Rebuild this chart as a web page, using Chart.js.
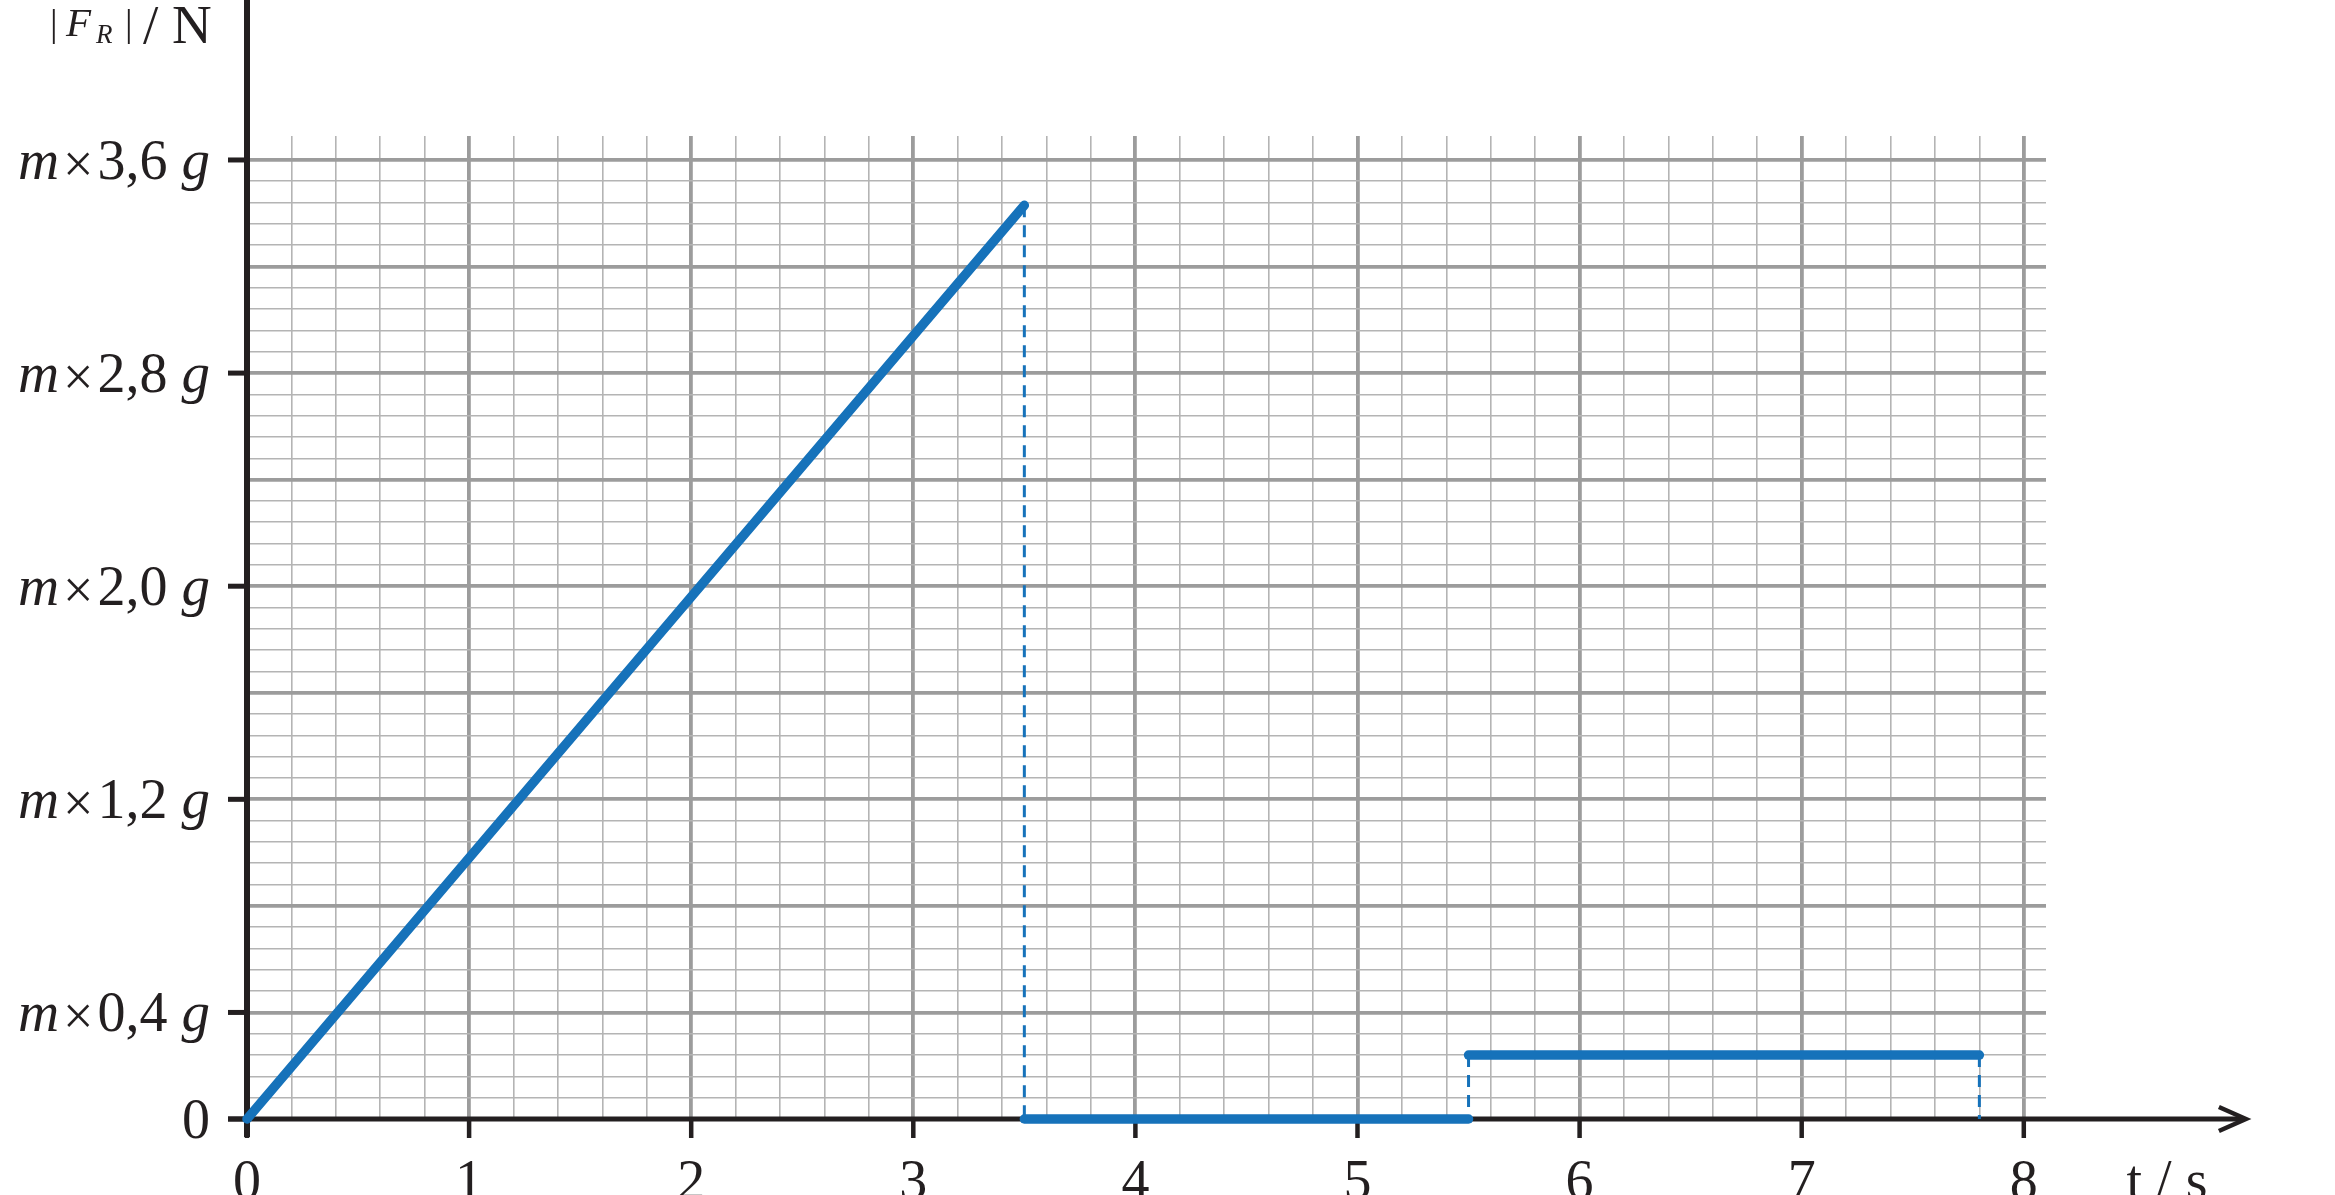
<!DOCTYPE html>
<html>
<head>
<meta charset="utf-8">
<title>|F_R| over t</title>
<script src="https://cdn.jsdelivr.net/npm/chart.js@4.4.1/dist/chart.umd.min.js"></script>
<style>
  html, body { margin: 0; padding: 0; background: #fff; }
  #wrap { width: 2335px; height: 1195px; position: relative; }
</style>
</head>
<body>
<div id="wrap"><canvas id="chart"></canvas></div>
<script>
  // values (t in s, |F_R| in units of m*g)
  var rampT = [0, 3.5];
  var rampF = [0, 3.43];
  var restT = [3.5, 5.5];
  var restF = [0, 0];
  var slideT = [5.5, 7.8];
  var slideF = [0.24, 0.24];
  var guideT = [3.5, 5.5, 7.8];
  var guideTop = [3.43, 0.24, 0.24];

  var xTickVals = [0, 1, 2, 3, 4, 5, 6, 7, 8];
  var yTickVals = [0, 0.4, 1.2, 2.0, 2.8, 3.6];
  var yTickText = ['0', '0,4', '1,2', '2,0', '2,8', '3,6'];

  var BLUE = '#1672ba';
  var INK = '#231f20';
  var SERIF = '"Liberation Serif", "DejaVu Serif", serif';

  function pts(xs, ys) {
    return xs.map(function (x, i) { return { x: x, y: ys[i] }; });
  }

  function near(v, step) {
    var q = v / step;
    return Math.abs(q - Math.round(q)) < 1e-6;
  }

  var datasets = [
    { data: pts(rampT, rampF), borderWidth: 9.5 },
    { data: pts(restT, restF), borderWidth: 9.5 },
    { data: pts(slideT, slideF), borderWidth: 9.5 }
  ];
  guideT.forEach(function (t, i) {
    datasets.push({ data: pts([t, t], [guideTop[i], 0]), borderWidth: 3, borderDash: [12, 8], borderCapStyle: 'butt' });
  });
  datasets.forEach(function (d) {
    d.showLine = true;
    d.borderColor = BLUE;
    d.pointRadius = 0;
    d.clip = false;
    if (!d.borderCapStyle) d.borderCapStyle = 'round';
  });

  // axes, arrow, tick marks and rich-text labels
  var axesPlugin = {
    id: 'axesPlugin',
    beforeDatasetsDraw: function (chart) {
      var ctx = chart.ctx, xs = chart.scales.x, ys = chart.scales.y;
      var x0 = xs.getPixelForValue(0), y0 = ys.getPixelForValue(0);
      ctx.save();
      ctx.strokeStyle = INK;
      ctx.lineCap = 'butt';
      // y axis
      ctx.lineWidth = 6;
      ctx.beginPath(); ctx.moveTo(x0, 0); ctx.lineTo(x0, y0 + 18); ctx.stroke();
      // x axis
      ctx.lineWidth = 5;
      var xEnd = xs.getPixelForValue(9);
      ctx.beginPath(); ctx.moveTo(x0 - 19, y0); ctx.lineTo(xEnd - 2, y0); ctx.stroke();
      // arrow head
      ctx.lineWidth = 4.5;
      ctx.lineJoin = 'miter';
      ctx.beginPath();
      ctx.moveTo(xEnd - 27, y0 - 12); ctx.lineTo(xEnd, y0); ctx.lineTo(xEnd - 27, y0 + 12);
      ctx.stroke();
      // tick marks
      ctx.lineWidth = 4.5;
      xTickVals.forEach(function (v) {
        var px = xs.getPixelForValue(v);
        ctx.beginPath(); ctx.moveTo(px, y0); ctx.lineTo(px, y0 + 19); ctx.stroke();
      });
      ctx.lineWidth = 5;
      yTickVals.forEach(function (v) {
        var py = ys.getPixelForValue(v);
        ctx.beginPath(); ctx.moveTo(x0 - 19, py); ctx.lineTo(x0, py); ctx.stroke();
      });
      ctx.restore();
    },
    afterDraw: function (chart) {
      var ctx = chart.ctx, xs = chart.scales.x, ys = chart.scales.y;
      var x0 = xs.getPixelForValue(0);
      ctx.save();
      ctx.fillStyle = INK;
      ctx.textBaseline = 'alphabetic';

      // x tick labels
      ctx.font = '56px ' + SERIF;
      ctx.textAlign = 'center';
      xTickVals.forEach(function (v) {
        ctx.fillText(String(v), xs.getPixelForValue(v), 1199);
      });
      ctx.fillText('t / s', 2167, 1199);

      // y tick labels: italic m, ×, value, italic g
      ctx.textAlign = 'left';
      var right = x0 - 37;
      yTickVals.forEach(function (v, i) {
        var py = ys.getPixelForValue(v) + 19;
        if (v === 0) {
          ctx.font = '56px ' + SERIF;
          ctx.fillText('0', right - ctx.measureText('0').width, py);
          return;
        }
        var parts = [
          { t: 'm', f: 'italic 57px ' + SERIF, gap: 4, dy: 0 },
          { t: '\u00d7', f: '54px ' + SERIF, gap: 4, dy: 3 },
          { t: yTickText[i], f: '56px ' + SERIF, gap: 14, dy: 0 },
          { t: 'g', f: 'italic 57px ' + SERIF, gap: 0, dy: 0 }
        ];
        var total = 0;
        parts.forEach(function (p) { ctx.font = p.f; p.w = ctx.measureText(p.t).width; total += p.w + p.gap; });
        var cx = right - total;
        parts.forEach(function (p) {
          ctx.font = p.f;
          ctx.fillText(p.t, cx, py + p.dy);
          cx += p.w + p.gap;
        });
      });

      // y axis title: | F_R | / N
      var tparts = [
        { t: '|', f: '38px ' + SERIF, x: 50, y: 36 },
        { t: 'F', f: 'italic 41px ' + SERIF, x: 66, y: 36 },
        { t: 'R', f: 'italic 27px ' + SERIF, x: 96, y: 43 },
        { t: '|', f: '38px ' + SERIF, x: 125, y: 36 },
        { t: '/ N', f: '55px ' + SERIF, x: 143, y: 43 }
      ];
      tparts.forEach(function (p) { ctx.font = p.f; ctx.fillText(p.t, p.x, p.y); });
      ctx.restore();
    }
  };

  new Chart(document.getElementById('chart'), {
    type: 'scatter',
    data: { datasets: datasets },
    plugins: [axesPlugin],
    options: {
      responsive: true,
      maintainAspectRatio: false,
      devicePixelRatio: 1,
      animation: false,
      events: [],
      layout: { padding: { left: 247, right: 289, top: 136, bottom: 76 } },
      plugins: { legend: { display: false }, tooltip: { enabled: false } },
      scales: {
        x: {
          type: 'linear', min: 0, max: 8.1,
          border: { display: false },
          ticks: { display: false, stepSize: 0.2, includeBounds: false },
          grid: {
            drawTicks: false,
            color: function (c) { return near(c.tick.value, 1) ? '#9c9c9c' : '#b4b4b4'; },
            lineWidth: function (c) { return near(c.tick.value, 1) ? 3.8 : 1.6; }
          }
        },
        y: {
          type: 'linear', min: 0, max: 3.69,
          border: { display: false },
          ticks: { display: false, stepSize: 0.08, includeBounds: false },
          grid: {
            drawTicks: false,
            color: function (c) {
              var v = c.tick.value;
              if (v > 3.6 + 1e-6) return 'rgba(0,0,0,0)';
              return near(v, 0.4) ? '#9c9c9c' : '#b4b4b4';
            },
            lineWidth: function (c) { return near(c.tick.value, 0.4) ? 3.8 : 1.6; }
          }
        }
      }
    }
  });
</script>
</body>
</html>
